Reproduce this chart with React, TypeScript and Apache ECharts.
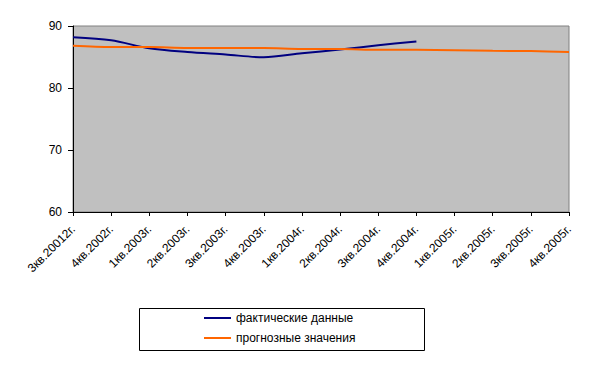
import React, { useEffect, useRef } from "react";
import * as echarts from "echarts";

const categories = [
  "3кв.20012г.", "4кв.2002г.", "1кв.2003г.", "2кв.2003г.", "3кв.2003г.", "4кв.2003г.",
  "1кв.2004г.", "2кв.2004г.", "3кв.2004г.", "4кв.2004г.", "1кв.2005г.", "2кв.2005г.",
  "3кв.2005г.", "4кв.2005г.",
];
const actual = [88.2, 87.7, 86.4, 85.8, 85.4, 84.95, 85.6, 86.2, 86.9, 87.5, null, null, null, null];
const forecast = [86.8, 86.6, 86.6, 86.45, 86.45, 86.45, 86.3, 86.3, 86.15, 86.15, 86.1, 86.0, 85.95, 85.8];
const seriesNames = ["фактические данные", "прогнозные значения"];

export default function App() {
  const ref = useRef<HTMLDivElement>(null);
  useEffect(() => {
    const chart = echarts.init(ref.current!, undefined, { renderer: "svg" });
    const font = "Arial, 'Liberation Sans', sans-serif";
    chart.setOption({
      animation: false,
      backgroundColor: "#ffffff",
      grid: {
        left: 73, right: 33, top: 26, bottom: 168,
        show: true, backgroundColor: "#C0C0C0", borderColor: "#808080", borderWidth: 1,
      },
      xAxis: {
        type: "category",
        data: categories,
        boundaryGap: false,
        axisLine: { lineStyle: { color: "#000", width: 1 } },
        axisTick: { show: true, length: 4, lineStyle: { color: "#000" } },
        axisLabel: { rotate: 45, fontSize: 12, color: "#000", fontFamily: font, margin: 15, interval: 0 },
        splitLine: { show: false },
      },
      yAxis: {
        type: "value",
        min: 60, max: 90, interval: 10,
        axisLine: { show: true, lineStyle: { color: "#000", width: 1 } },
        axisTick: { show: true, length: 5, lineStyle: { color: "#000" } },
        axisLabel: { fontSize: 12, color: "#000", fontFamily: font, margin: 11 },
        splitLine: { show: false },
      },
      legend: {
        orient: "vertical",
        left: 199, top: 307,
        itemWidth: 27, itemHeight: 2, itemGap: 8,
        icon: "rect",
        textStyle: { fontSize: 12, color: "#000", fontFamily: font },
        data: seriesNames,
      },
      graphic: [
        {
          type: "rect",
          shape: { x: 139.5, y: 308.5, width: 285, height: 42 },
          style: { fill: "none", stroke: "#000", lineWidth: 1 },
          silent: true,
        },
      ],
      series: [
        {
          name: seriesNames[0], type: "line", data: actual, smooth: 0.3,
          showSymbol: false, symbol: "none", connectNulls: false,
          lineStyle: { color: "#000080", width: 2 }, itemStyle: { color: "#000080" },
        },
        {
          name: seriesNames[1], type: "line", data: forecast, smooth: 0.3,
          showSymbol: false, symbol: "none",
          lineStyle: { color: "#FF6600", width: 2 }, itemStyle: { color: "#FF6600" },
        },
      ],
    });
    return () => chart.dispose();
  }, []);
  return <div ref={ref} style={{ width: 602, height: 380, position: "absolute", left: 0, top: 0 }} />;
}
